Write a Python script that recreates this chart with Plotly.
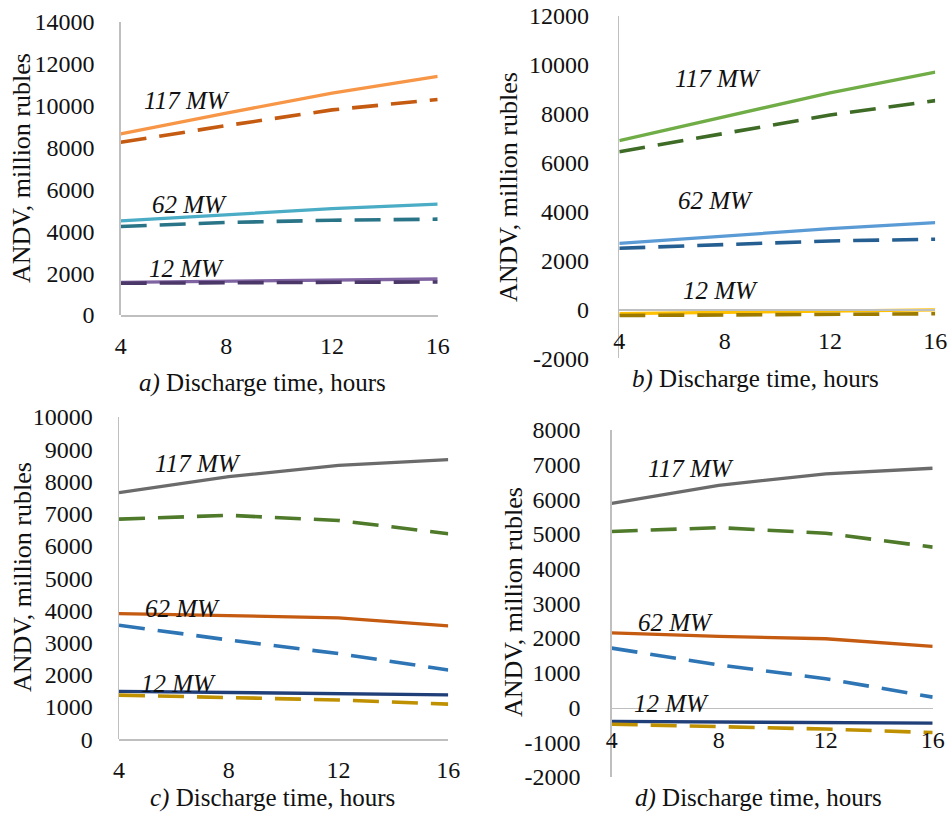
import plotly.graph_objects as go

W, H = 952, 814

hours = [4, 8, 12, 16]
hour_labels = ["4", "8", "12", "16"]

# Panel a
a_yticks = [0, 2000, 4000, 6000, 8000, 10000, 12000, 14000]
a_117_solid = [8650, 9650, 10600, 11400]
a_117_dash = [8250, 9050, 9800, 10300]
a_62_solid = [4500, 4780, 5080, 5300]
a_62_dash = [4230, 4420, 4530, 4580]
a_12_solid = [1560, 1620, 1680, 1720]
a_12_dash = [1520, 1540, 1560, 1580]

# Panel b
b_yticks = [-2000, 0, 2000, 4000, 6000, 8000, 10000, 12000]
b_117_solid = [6900, 7880, 8860, 9700]
b_117_dash = [6450, 7200, 7950, 8540]
b_62_solid = [2700, 3000, 3300, 3550]
b_62_dash = [2500, 2650, 2800, 2870]
b_12_solid = [-170, -110, -60, -20]
b_12_dash = [-250, -225, -200, -180]

# Panel c
c_yticks = [0, 1000, 2000, 3000, 4000, 5000, 6000, 7000, 8000, 9000, 10000]
c_117_solid = [7650, 8150, 8500, 8680]
c_117_dash = [6830, 6950, 6790, 6380]
c_62_solid = [3900, 3830, 3770, 3520]
c_62_dash = [3540, 3080, 2660, 2150]
c_12_solid = [1490, 1450, 1410, 1380]
c_12_dash = [1370, 1300, 1220, 1090]

# Panel d
d_yticks = [-2000, -1000, 0, 1000, 2000, 3000, 4000, 5000, 6000, 7000, 8000]
d_117_solid = [5880, 6400, 6730, 6890]
d_117_dash = [5070, 5180, 5020, 4620]
d_62_solid = [2150, 2050, 1980, 1760]
d_62_dash = [1710, 1230, 830, 300]
d_12_solid = [-400, -420, -435, -450]
d_12_dash = [-480, -550, -620, -720]

series_labels = ["117 MW", "62 MW", "12 MW"]
panel_letters = ["a)", "b)", "c)", "d)"]
x_title = "Discharge time, hours"
y_title = "ANDV, million rubles"

FONT = "Liberation Serif"
TXT = "#111111"
AXC = "#BFBFBF"
DASH = "26px,13px"


def px_x(p):
    return p / W


def px_y(p):
    return 1 - p / H


panels = [
    dict(key="", xdom=(120.7, 437.7), ydom=(22, 315), yt=a_yticks,
         series=[(a_117_solid, "#F79646", "solid"), (a_117_dash, "#C55A11", "dash"),
                 (a_62_solid, "#4BACC6", "solid"), (a_62_dash, "#2A7487", "dash"),
                 (a_12_solid, "#8064A2", "solid"), (a_12_dash, "#4B3868", "dash")],
         labels=[(6.5, 10262), (6.62, 5298), (6.5, 2243)],
         ytitle=(22, 168), xtitle=(262, 383), stand_y=20, stand_x=9),
    dict(key="2", xdom=(619.3, 935.3), ydom=(16, 358.3), yt=b_yticks,
         series=[(b_117_solid, "#70AD47", "solid"), (b_117_dash, "#3E6B26", "dash"),
                 (b_62_solid, "#5B9BD5", "solid"), (b_62_dash, "#255E91", "dash"),
                 (b_12_solid, "#FFC000", "solid"), (b_12_dash, "#9C7A00", "dash")],
         labels=[(7.74, 9452), (7.67, 4474), (7.86, 793)],
         ytitle=(508, 187), xtitle=(755, 379), stand_y=24, stand_x=9),
    dict(key="3", xdom=(119, 448.3), ydom=(417, 739.3), yt=c_yticks,
         series=[(c_117_solid, "#6B6B6B", "solid"), (c_117_dash, "#4E7A2A", "dash"),
                 (c_62_solid, "#C55A11", "solid"), (c_62_dash, "#2E75B6", "dash"),
                 (c_12_solid, "#203E78", "solid"), (c_12_dash, "#BF9000", "dash")],
         labels=[(6.88, 8551), (6.30, 4052), (6.15, 1725)],
         ytitle=(22, 577), xtitle=(272, 798), stand_y=20, stand_x=8),
    dict(key="4", xdom=(611.7, 932.7), ydom=(429.7, 777), yt=d_yticks,
         series=[(d_117_solid, "#6B6B6B", "solid"), (d_117_dash, "#4E7A2A", "dash"),
                 (d_62_solid, "#C55A11", "solid"), (d_62_dash, "#2E75B6", "dash"),
                 (d_12_solid, "#203E78", "solid"), (d_12_dash, "#BF9000", "dash")],
         labels=[(6.96, 6876), (6.40, 2462), (6.22, 109)],
         ytitle=(513, 602), xtitle=(758, 798), stand_y=25, stand_x=10),
]

fig = go.Figure()
annotations = []

for i, p in enumerate(panels):
    k = p["key"]
    xa = "x" + k
    ya = "y" + k
    for vals, color, style in p["series"]:
        fig.add_trace(go.Scatter(
            x=hours, y=vals, mode="lines", xaxis=xa, yaxis=ya,
            line=dict(color=color, width=3.3 if style == "solid" else 3.6,
                      dash="solid" if style == "solid" else DASH),
            showlegend=False, hoverinfo="skip"))

    xd = [px_x(p["xdom"][0]), px_x(p["xdom"][1])]
    yd = [px_y(p["ydom"][1]), px_y(p["ydom"][0])]
    yt = p["yt"]
    y0, y1 = min(yt), max(yt)
    zero_pos = yd[0] + (0 - y0) / (y1 - y0) * (yd[1] - yd[0])

    xaxis = dict(domain=xd, range=[4, 16], tickvals=hours, ticktext=hour_labels,
                 showgrid=False, zeroline=False, showline=True, linecolor=AXC, linewidth=1.5,
                 ticks="", ticklabelstandoff=p["stand_x"], automargin=False,
                 tickfont=dict(family=FONT, size=24, color=TXT),
                 anchor="free", position=zero_pos, fixedrange=True)
    yaxis = dict(domain=yd, range=[y0, y1], tickvals=yt, ticktext=[str(v) for v in yt],
                 showgrid=False, zeroline=False, showline=True, linecolor=AXC, linewidth=1.5,
                 ticks="", ticklabelstandoff=p["stand_y"], automargin=False,
                 tickfont=dict(family=FONT, size=24, color=TXT),
                 anchor=xa, fixedrange=True)
    fig.update_layout(**{"xaxis" + k: xaxis, "yaxis" + k: yaxis})

    for lab, (lx, ly) in zip(series_labels, p["labels"]):
        annotations.append(dict(x=lx, y=ly, xref=xa, yref=ya, text="<i>" + lab + "</i>",
                                xanchor="center", yanchor="middle",
                                showarrow=False, font=dict(family=FONT, size=25, color=TXT)))

    tx, ty = p["ytitle"]
    annotations.append(dict(x=px_x(tx), y=px_y(ty), xref="paper", yref="paper",
                            text=y_title, textangle=-90, showarrow=False,
                            xanchor="center", yanchor="middle",
                            font=dict(family=FONT, size=26, color=TXT)))
    bx, by = p["xtitle"]
    annotations.append(dict(x=px_x(bx), y=px_y(by), xref="paper", yref="paper",
                            text="<i>" + panel_letters[i] + "</i> " + x_title, showarrow=False,
                            xanchor="center", yanchor="middle",
                            font=dict(family=FONT, size=25, color=TXT)))

fig.update_layout(width=W, height=H, autosize=False,
                  margin=dict(l=0, r=0, t=0, b=0, pad=0, autoexpand=False),
                  paper_bgcolor="white", plot_bgcolor="white",
                  annotations=annotations)

fig.write_html("out.html", config={"displayModeBar": False, "staticPlot": True},
               post_script="document.body.style.margin='0px';"
                           "document.body.style.overflow='hidden';")
